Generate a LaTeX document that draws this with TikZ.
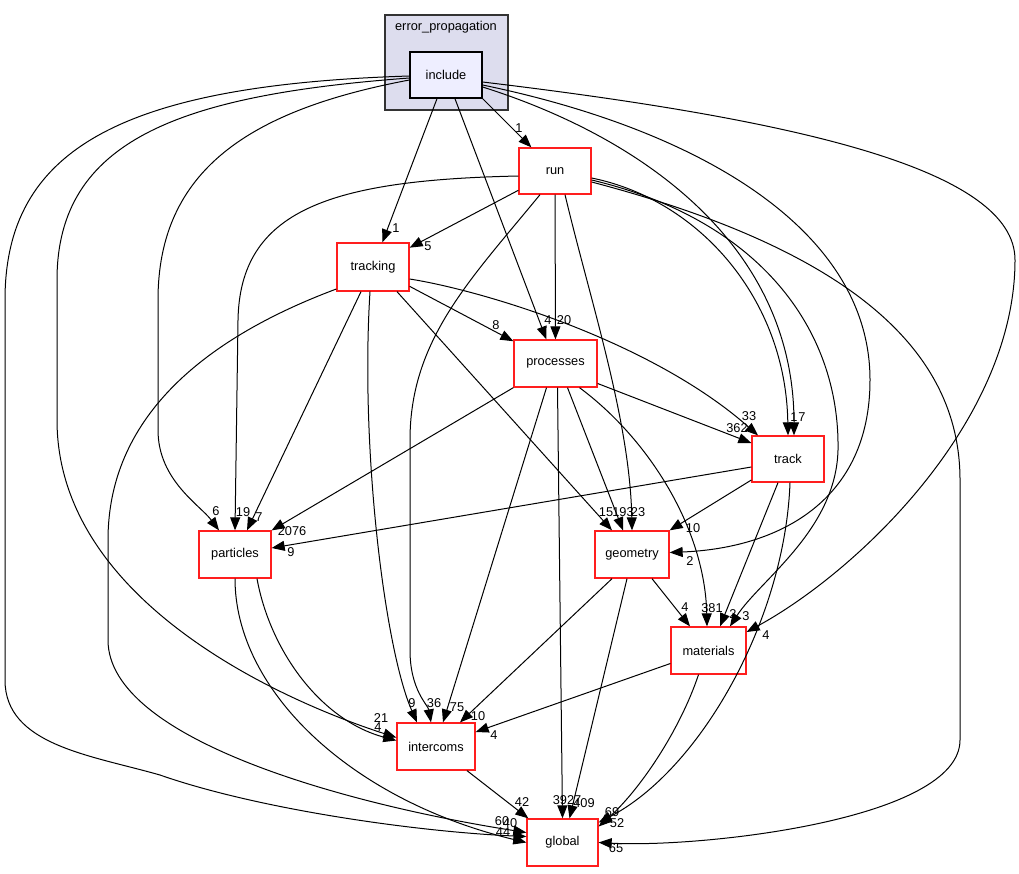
\documentclass[tikz,border=0pt]{standalone}
\usepackage{fontspec}
\setmainfont{Liberation Sans}
\usetikzlibrary{arrows.meta}

\definecolor{clusterfill}{RGB}{221,221,238}
\definecolor{includefill}{RGB}{238,238,255}
\definecolor{dirred}{RGB}{255,30,30}

\begin{document}
\begin{tikzpicture}[x=1pt,y=-1pt,>={Triangle[length=13pt,width=10pt]},
	dir/.style={draw=dirred,line width=1.3pt,fill=white,minimum width=72pt,minimum height=47pt,inner sep=0pt,font=\fontsize{12.8}{14}\selectfont},
	dep/.style={->,line width=1pt},
	lbl/.style={inner sep=0pt,font=\fontsize{12.8}{14}\selectfont}]
					\useasboundingbox (0,0) rectangle (1019,873);
					\fill[white] (0,0) rectangle (1019,873);

					% cluster
					\draw[fill=clusterfill,draw=black!80,line width=1.1pt] (385,15) rectangle (508,110);
					\node[lbl] (errprop) at (446,27) {error\_propagation};

					\node[dir,draw=black,fill=includefill,minimum height=46pt] (include) at (446,75) {include};
					\node[dir,minimum height=46pt] (run) at (555,171) {run};
					\node[dir,minimum height=48pt] (tracking) at (373,267) {tracking};
					\node[dir,minimum width=83pt] (processes) at (555.5,363.5) {processes};
					\node[dir,minimum height=46pt] (track) at (788,459) {track};
					\node[dir] (particles) at (235,554.5) {particles};
					\node[dir,minimum width=74pt] (geometry) at (632,554.5) {geometry};
					\node[dir,minimum width=75pt] (materials) at (708.5,650.5) {materials};
					\node[dir,minimum width=78pt] (intercoms) at (436,746.5) {intercoms};
					\node[dir,minimum width=71pt] (global) at (562.5,842.5) {global};

					% include
					\draw[dep] (include.south east) -- (run) node[lbl] at (519,128) {1};
					\draw[dep] (include) -- (tracking) node[lbl] at (396,228) {1};
					\draw[dep] (include) -- (processes) node[lbl] at (548,320) {4};
					\draw[dep] ([yshift=-5pt]include.west) .. controls (250,110) and (158,170) .. (158,300) -- (158,430) .. controls (158,480) and (200,505) .. ([xshift=-16pt]particles.north) node[lbl] at (216,511) {6};
					\draw[dep] ([yshift=-3pt]include.west) .. controls (180,95) and (57,140) .. (57,280) -- (57,420) .. controls (57,600) and (280,700) .. ([yshift=9pt]intercoms.west) node[lbl] at (381,718) {21};
					\draw[dep] ([yshift=-1pt]include.west) .. controls (120,85) and (5,150) .. (5,300) -- (5,680) .. controls (5,745) and (90,755) .. (160,775) .. controls (260,810) and (420,832) .. ([yshift=6pt]global.west) node[lbl] at (502,821) {60};
					\draw[dep] ([yshift=-12pt]include.east) .. controls (650,140) and (794,250) .. ([xshift=6pt]track.north) node[lbl] at (794,417) {1};
					\draw[dep] ([yshift=-10pt]include.east) .. controls (700,130) and (870,230) .. (870,380) .. controls (870,500) and (780,548) .. ([yshift=2pt]geometry.east) node[lbl] at (690,561) {2};
					\draw[dep] ([yshift=-7pt]include.east) .. controls (800,120) and (1015,170) .. (1015,260) .. controls (1015,420) and (860,570) .. ([yshift=18.5pt]materials.east) node[lbl] at (766,635) {4};

					% run
					\draw[dep] (run) -- (tracking) node[lbl] at (428,246) {5};
					\draw[dep] (run) -- (processes) node[lbl] at (564,320) {20};
					\draw[dep] ([yshift=-5pt]run.west) .. controls (330,180) and (240,210) .. (238,320) -- (particles.north) node[lbl] at (243,512) {19};
					\draw[dep] ([xshift=-15pt]run.south) .. controls (470,280) and (410,340) .. (410,440) -- (410,650) .. controls (410,690) and (428,705) .. ([xshift=-5pt]intercoms.north) node[lbl] at (434,703) {36};
					\draw[dep] ([xshift=10pt]run.south) .. controls (590,300) and (630,420) .. (geometry.north) node[lbl] at (638,512) {23};
					\draw[dep] ([yshift=-7pt]run.east) .. controls (700,200) and (786,300) .. (track.north) node[lbl] at (802,417) {7};
					\draw[dep] ([yshift=-9pt]run.east) .. controls (760,220) and (840,330) .. (838,450) .. controls (836,530) and (760,580) .. ([xshift=21.5pt]materials.north) node[lbl] at (746,616) {3};
					\draw[dep] ([yshift=-11pt]run.east) .. controls (850,250) and (960,350) .. (960,480) -- (960,740) .. controls (960,820) and (700,848) .. (global.east) node[lbl] at (616,848) {65};

					% tracking
					\draw[dep] (tracking) -- (processes) node[lbl] at (496,325) {8};
					\draw[dep] ([yshift=-12pt]tracking.east) .. controls (480,290) and (650,340) .. ([xshift=-30pt]track.north) node[lbl] at (749,416) {33};
					\draw[dep] ([xshift=-12pt]tracking.south) -- ([xshift=12pt]particles.north) node[lbl] at (259,517) {7};
					\draw[dep] ([xshift=24pt]tracking.south) -- ([xshift=-20pt]geometry.north) node[lbl] at (606,512) {15};
					\draw[dep] ([xshift=-3pt]tracking.south) .. controls (360,450) and (385,650) .. ([xshift=-19pt]intercoms.north) node[lbl] at (412,703) {9};
					\draw[dep] ([yshift=-22pt]tracking.west) .. controls (200,340) and (108,420) .. (108,540) -- (108,640) .. controls (108,740) and (350,805) .. ([yshift=10pt]global.west) node[lbl] at (510,823) {40};

					% processes
					\draw[dep] ([yshift=-20pt]processes.east) -- ([yshift=16pt]track.west) node[lbl] at (737,428) {362};
					\draw[dep] (processes.south west) -- (particles.north east) node[lbl] at (292,531) {2076};
					\draw[dep] ([xshift=12pt]processes.south) -- ([xshift=-9pt]geometry.north) node[lbl] at (623,512) {193};
					\draw[dep] ([xshift=24pt]processes.south) .. controls (650,440) and (705,530) .. ([xshift=-1.5pt]materials.north) node[lbl] at (712,608) {381};
					\draw[dep] ([xshift=-9pt]processes.south) -- ([xshift=7pt]intercoms.north) node[lbl] at (457,707) {75};
					\draw[dep] ([xshift=2pt]processes.south) -- (global.north) node[lbl] at (567,800) {3927};

					% track
					\draw[dep] ([yshift=-8pt]track.west) -- ([yshift=6.5pt]particles.east) node[lbl] at (291,552) {9};
					\draw[dep] ([yshift=-21pt]track.west) -- (geometry.north east) node[lbl] at (693,528) {10};
					\draw[dep] ([xshift=-10pt]track.south) -- ([xshift=11.5pt]materials.north) node[lbl] at (733,614) {2};
					\draw[dep] ([xshift=2pt]track.south) .. controls (785,620) and (700,770) .. ([yshift=20pt]global.east) node[lbl] at (612,812) {69};

					% geometry
					\draw[dep] ([xshift=20pt]geometry.south) -- ([xshift=-18.5pt]materials.north) node[lbl] at (685,607) {4};
					\draw[dep] ([xshift=-20pt]geometry.south) -- ([xshift=24pt]intercoms.north) node[lbl] at (478,716) {10};
					\draw[dep] ([xshift=-5pt]geometry.south) -- ([xshift=7pt]global.north) node[lbl] at (584,803) {409};

					% materials
					\draw[dep] ([yshift=-13pt]materials.west) -- ([yshift=14.5pt]intercoms.east) node[lbl] at (494,735) {4};
					\draw[dep] ([xshift=-10pt]materials.south) .. controls (680,730) and (640,790) .. ([yshift=16pt]global.east) node[lbl] at (617,823) {52};

					% intercoms, particles
					\draw[dep] ([xshift=31pt]intercoms.south) -- ([xshift=2pt]global.north west) node[lbl] at (522,802) {42};
					\draw[dep] ([xshift=22pt]particles.south) .. controls (270,650) and (320,720) .. ([yshift=6pt]intercoms.west) node[lbl] at (378,727) {4};
					\draw[dep] (particles.south) .. controls (235,690) and (350,800) .. (global.west) node[lbl] at (503,832) {44};
				\end{tikzpicture}
\end{document}
